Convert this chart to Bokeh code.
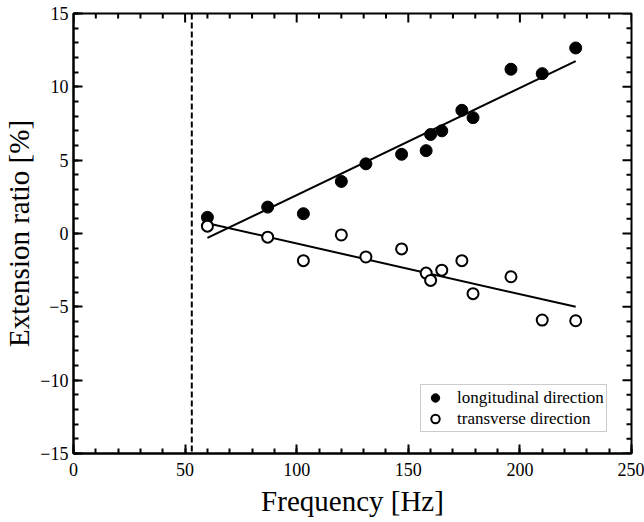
import math
from bokeh.plotting import figure
from bokeh.models import Range1d, Span, Legend, LegendItem, SingleIntervalTicker
from bokeh.embed import file_html
from bokeh.resources import INLINE

# ---- data ----
freq = [60, 87, 103, 120, 131, 147, 158, 160, 165, 174, 179, 196, 210, 225]
longitudinal = [1.1, 1.8, 1.35, 3.55, 4.75, 5.4, 5.65, 6.75, 7.0, 8.4, 7.9, 11.2, 10.9, 12.65]
transverse = [0.5, -0.25, -1.85, -0.1, -1.6, -1.05, -2.7, -3.2, -2.5, -1.85, -4.1, -2.95, -5.9, -5.95]
fit_x = [60, 225]
long_fit = [-0.3, 11.75]
trans_fit = [0.7, -5.0]
resonance_freq = 53
x_major = [0, 50, 100, 150, 200, 250]
y_major = [-15, -10, -5, 0, 5, 10, 15]
x_minor = [v for v in range(0, 251, 10) if v not in x_major]
y_minor = [v for v in range(-15, 16) if v not in y_major]

FONT = "Liberation Serif"
X0, X1, Y0, Y1 = 0, 250, -15, 15

p = figure(width=644, height=522, output_backend="svg", toolbar_location=None,
           x_range=Range1d(X0, X1), y_range=Range1d(Y0, Y1),
           min_border_left=71, min_border_right=13, min_border_top=13, min_border_bottom=69)
p.xgrid.visible = False
p.ygrid.visible = False
p.outline_line_color = "black"
p.outline_line_width = 2
p.background_fill_color = "white"
p.border_fill_color = "white"

for ax, ticker in ((p.xaxis[0], SingleIntervalTicker(interval=50, num_minor_ticks=5)),
                   (p.yaxis[0], SingleIntervalTicker(interval=5, num_minor_ticks=5))):
    ax.ticker = ticker
    ax.axis_line_width = 2
    ax.axis_line_color = "black"
    ax.major_tick_in = 9
    ax.major_tick_out = 0
    ax.minor_tick_in = 5
    ax.minor_tick_out = 0
    ax.major_tick_line_width = 2
    ax.minor_tick_line_width = 2
    ax.major_tick_line_color = "black"
    ax.minor_tick_line_color = "black"
    ax.major_label_text_font = FONT
    ax.major_label_text_font_size = "18px"
    ax.major_label_text_color = "black"
    ax.axis_label_text_font = FONT
    ax.axis_label_text_font_style = "normal"
    ax.axis_label_text_font_size = "29px"
    ax.axis_label_text_color = "black"
p.xaxis[0].major_label_standoff = 9
p.yaxis[0].major_label_standoff = 5
p.xaxis.axis_label = "Frequency [Hz]"
p.yaxis.axis_label = "Extension ratio [%]"
p.xaxis[0].axis_label_standoff = 6
p.yaxis[0].axis_label_standoff = 2

# mirrored inward tick marks on top and right edges (glyphs are clipped to the frame)
for xs, size in ((x_major, 18), (x_minor, 10)):
    p.scatter(xs, [Y1] * len(xs), marker="dash", size=size, angle=math.pi / 2,
              line_color="black", line_width=2)
for ys, size in ((y_major, 18), (y_minor, 10)):
    p.scatter([X1] * len(ys), ys, marker="dash", size=size,
              line_color="black", line_width=2)

p.add_layout(Span(location=resonance_freq, dimension="height", line_color="black",
                  line_width=2, line_dash="6 3"))

p.line(fit_x, long_fit, line_color="black", line_width=2)
p.line(fit_x, trans_fit, line_color="black", line_width=2)

r1 = p.scatter(freq, longitudinal, marker="circle", size=12, fill_color="black",
               line_color="black")
r2 = p.scatter(freq, transverse, marker="circle", size=11, fill_color="white",
               line_color="black", line_width=2)

legend = Legend(items=[LegendItem(label="longitudinal direction", renderers=[r1]),
                       LegendItem(label="transverse direction", renderers=[r2])],
                location=(347, 21))
legend.label_text_font = FONT
legend.label_text_font_size = "17px"
legend.label_text_color = "black"
legend.border_line_color = "#999999"
legend.border_line_width = 1
legend.padding = 2
legend.spacing = 0
legend.margin = 0
legend.glyph_width = 24
legend.glyph_height = 21
legend.label_height = 21
legend.label_standoff = 10
p.add_layout(legend, "center")

open("out.html", "w").write(file_html(p, INLINE))
